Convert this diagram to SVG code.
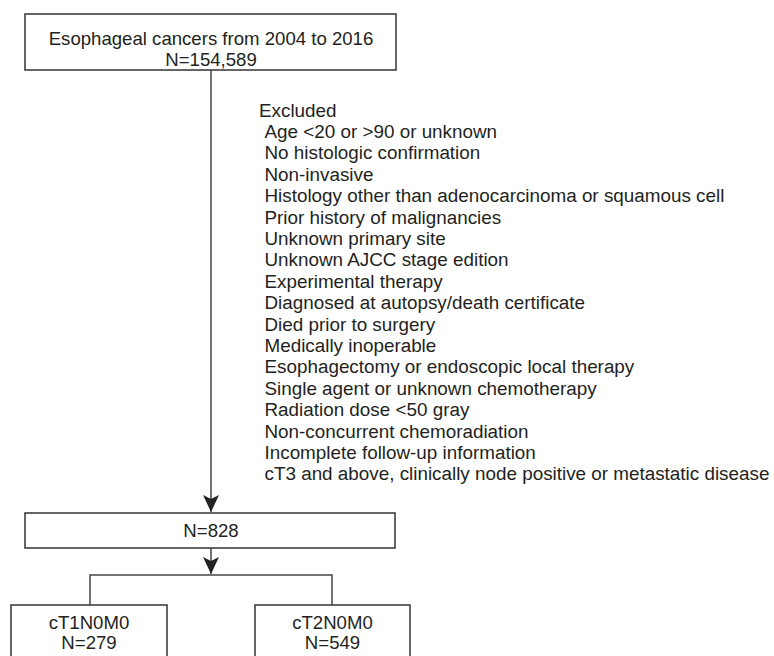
<svg xmlns="http://www.w3.org/2000/svg" width="774" height="656" viewBox="0 0 774 656">
<style>
text{font-family:"Liberation Sans",Arial,sans-serif;font-size:18.6px;fill:#231f20}
#excluded text{font-size:18.85px}
.c{text-anchor:middle}
.box{fill:#fff;stroke:#333;stroke-width:1.5}
.ln{fill:none;stroke:#444;stroke-width:1.5}
.ah{fill:#222}
</style>
<rect width="774" height="656" fill="#fff"/>
<g id="connectors">
<line class="ln" x1="211" y1="70" x2="211" y2="512"/>
<path class="ah" d="M203,495 L211,499 L219,495 L211,512 Z"/>
<line class="ln" x1="211" y1="548" x2="211" y2="574"/>
<path class="ah" d="M203,557 L211,561 L219,557 L211,574 Z"/>
<polyline class="ln" points="90,605 90,575 332,575 332,605"/>
</g>
<g id="top">
<rect class="box" x="25" y="14" width="371" height="56"/>
<text class="c" x="211" y="45">Esophageal cancers from 2004 to 2016</text>
<text class="c" x="211" y="65.5">N=154,589</text>
</g>
<g id="excluded">
<text x="259" y="116.5">Excluded</text>
<text x="264.5" y="138">Age &lt;20 or &gt;90 or unknown</text>
<text x="264.5" y="159.4">No histologic confirmation</text>
<text x="264.5" y="180.8">Non-invasive</text>
<text x="264.5" y="202.2">Histology other than adenocarcinoma or squamous cell</text>
<text x="264.5" y="223.6">Prior history of malignancies</text>
<text x="264.5" y="245">Unknown primary site</text>
<text x="264.5" y="266.4">Unknown AJCC stage edition</text>
<text x="264.5" y="287.8">Experimental therapy</text>
<text x="264.5" y="309.2">Diagnosed at autopsy/death certificate</text>
<text x="264.5" y="330.6">Died prior to surgery</text>
<text x="264.5" y="352">Medically inoperable</text>
<text x="264.5" y="373.4">Esophagectomy or endoscopic local therapy</text>
<text x="264.5" y="394.8">Single agent or unknown chemotherapy</text>
<text x="264.5" y="416.2">Radiation dose &lt;50 gray</text>
<text x="264.5" y="437.6">Non-concurrent chemoradiation</text>
<text x="264.5" y="459">Incomplete follow-up information</text>
<text x="264.5" y="480.4">cT3 and above, clinically node positive or metastatic disease</text>
</g>
<g id="n828">
<rect class="box" x="25" y="513" width="370" height="35"/>
<text class="c" x="211" y="537">N=828</text>
</g>
<g id="ct1">
<rect class="box" x="11" y="605" width="156" height="60"/>
<text class="c" x="89" y="629">cT1N0M0</text>
<text class="c" x="89" y="649">N=279</text>
</g>
<g id="ct2">
<rect class="box" x="255" y="605" width="155" height="60"/>
<text class="c" x="332.5" y="629">cT2N0M0</text>
<text class="c" x="332.5" y="649">N=549</text>
</g>
</svg>
